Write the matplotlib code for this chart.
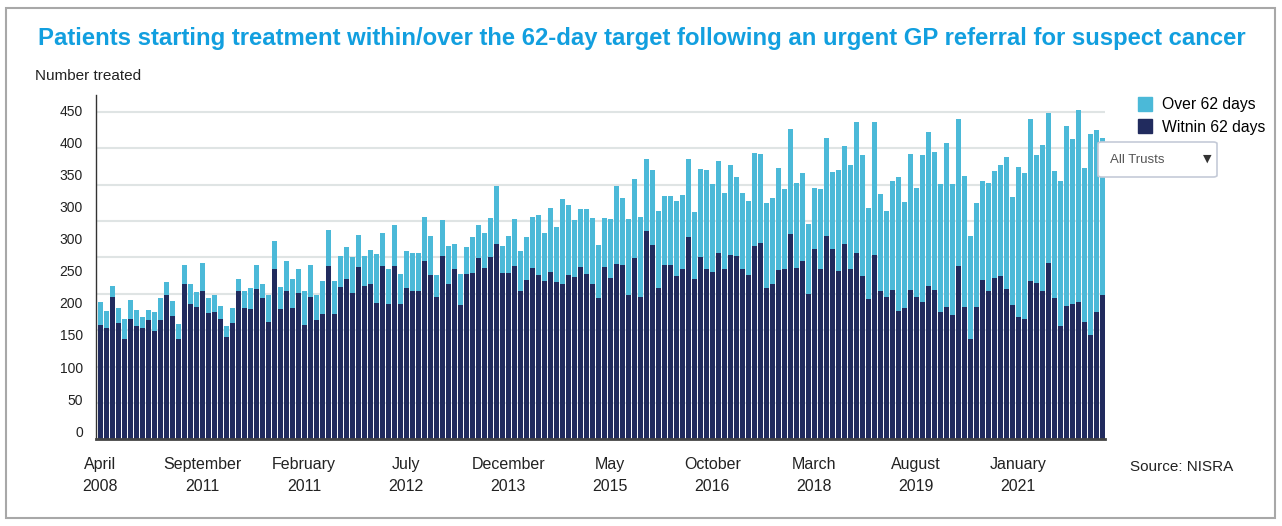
import numpy as np
import matplotlib
matplotlib.use("Agg")
import matplotlib.pyplot as plt
from matplotlib.patches import Rectangle, FancyBboxPatch
from matplotlib.lines import Line2D

plt.rcParams['font.family'] = ['Liberation Sans', 'DejaVu Sans']

# monthly counts, April 2008 onwards
within = [157, 153, 196, 160, 138, 165, 156, 153, 164, 149, 164, 198, 169, 138, 213, 186, 182, 204,
          174, 175, 165, 141, 160, 204, 180, 179, 207, 194, 161, 234, 179, 204, 180, 201, 157, 196,
          164, 172, 238, 172, 209, 220, 201, 237, 211, 213, 187, 238, 186, 238, 186, 208, 204, 204,
          245, 226, 196, 252, 213, 234, 185, 227, 229, 249, 235, 251, 268, 229, 229, 238, 204, 219,
          235, 226, 218, 230, 216, 213, 226, 223, 237, 227, 213, 194, 237, 222, 241, 240, 198, 249,
          196, 286, 267, 208, 240, 240, 224, 234, 278, 220, 251, 234, 230, 256, 234, 253, 252, 234,
          226, 266, 270, 208, 213, 233, 234, 282, 235, 245, 200, 261, 234, 279, 261, 231, 268, 234,
          256, 224, 193, 253, 204, 196, 205, 176, 180, 205, 196, 189, 211, 205, 175, 182, 171, 238,
          182, 138, 182, 219, 204, 222, 224, 207, 185, 168, 165, 218, 215, 204, 242, 194, 156, 183,
          186, 189, 161, 143, 175, 198]
over = [32, 23, 15, 20, 27, 26, 22, 15, 14, 26, 30, 18, 21, 20, 27, 27, 20, 38,
        20, 23, 18, 15, 20, 16, 24, 29, 33, 19, 37, 38, 30, 41, 40, 33, 47, 44,
        34, 46, 50, 46, 43, 44, 50, 44, 41, 47, 68, 45, 48, 56, 41, 51, 52, 52,
        60, 53, 30, 49, 53, 34, 42, 37, 49, 45, 48, 53, 80, 37, 50, 65, 55, 59,
        70, 82, 65, 88, 76, 117, 96, 78, 79, 89, 91, 73, 67, 81, 107, 92, 105, 109,
        109, 99, 103, 106, 94, 94, 103, 102, 107, 92, 120, 136, 121, 126, 104, 124, 108, 104,
        101, 127, 122, 117, 119, 140, 110, 144, 117, 121, 96, 84, 110, 135, 106, 139, 135, 143,
        180, 167, 125, 183, 133, 118, 150, 184, 146, 187, 149, 202, 211, 190, 176, 225, 180, 202,
        180, 141, 143, 136, 148, 147, 153, 181, 148, 206, 201, 222, 176, 200, 206, 175, 199, 247,
        227, 263, 212, 276, 250, 216]

tick_labels = ["April\n2008", "September\n2011", "February\n2011", "July\n2012", "December\n2013",
               "May\n2015", "October\n2016", "March\n2018", "August\n2019", "January\n2021"]
# y labels as printed on the original (not aligned with the grid)
ylabels = ["0", "50", "100", "150", "200", "250", "300", "300", "350", "400", "450"]

dark = '#212b5e'
light = '#4bb9d8'

W, H = 1282, 526
fig = plt.figure(figsize=(W / 100, H / 100), dpi=100)
ax = fig.add_axes([96 / W, 1 - 439.3 / H, 1009 / W, (439.3 - 95) / H])

x = np.arange(len(within))
ax.bar(x, within, width=0.78, color=dark, label="Witnin 62 days")
ax.bar(x, over, width=0.78, bottom=within, color=light, label="Over 62 days")

ax.set_xlim(-0.7, len(within) - 0.55)
ax.set_ylim(0, 473)
ax.set_yticks(np.arange(50, 451, 50))
ax.yaxis.grid(True, color='#dfe4e4', lw=1.5)
ax.set_axisbelow(True)
ax.tick_params(axis='y', length=0, labelleft=False)
for s in ['top', 'right']:
    ax.spines[s].set_visible(False)
ax.spines['left'].set_color('#333333')
ax.spines['left'].set_linewidth(1)
ax.spines['bottom'].set_color('#444444')
ax.spines['bottom'].set_linewidth(2)

ax.set_xticks(np.arange(len(tick_labels)) * 17)
ax.set_xticklabels(tick_labels, fontsize=11.5, color='#222222', linespacing=1.55)
ax.tick_params(axis='x', length=0, pad=13)

for v, lab in zip(np.linspace(9, 450, len(ylabels)), ylabels):
    ax.text(-13 / 1009, v, lab, transform=ax.get_yaxis_transform(), ha='right', va='center',
            fontsize=10, color='#222222')

fig.text(642 / W, 1 - 38 / H,
         "Patients starting treatment within/over the 62-day target following an urgent GP referral for suspect cancer",
         ha='center', va='center', fontsize=17.2, fontweight='bold', color='#129fdf')
fig.text(35 / W, 1 - 76 / H, "Number treated", ha='left', va='center', fontsize=11, color='#222222')
fig.text(1130 / W, 1 - 467 / H, "Source: NISRA", ha='left', va='center', fontsize=11, color='#222222')

handles = [Line2D([], [], ls='none', marker='s', markersize=10, color=light),
           Line2D([], [], ls='none', marker='s', markersize=10, color=dark)]
fig.legend(handles, ["Over 62 days", "Witnin 62 days"], loc='upper left',
           bbox_to_anchor=(1139 / W, 1 - 97 / H), frameon=False, fontsize=11.3,
           handlelength=0.8, handletextpad=0.65, labelspacing=0.5, borderaxespad=0, borderpad=0)

box = FancyBboxPatch((1098 / W, 1 - 177 / H), 119 / W, 35 / H, transform=fig.transFigure,
                     boxstyle="round,pad=0,rounding_size=0.003", fc='white', ec='#c5cbd8', lw=1.2,
                     zorder=10)
fig.add_artist(box)
fig.text(1110 / W, 1 - 160 / H, "All Trusts", ha='left', va='center', fontsize=9.5, color='#555555',
         zorder=11)
fig.text(1207 / W, 1 - 159 / H, "\u25bc", ha='center', va='center', fontsize=8, color='#333333',
         family='DejaVu Sans', zorder=11)

fig.add_artist(Rectangle((6 / W, 8 / H), 1269 / W, 510 / H, transform=fig.transFigure,
                         fill=False, ec='#a8a8a8', lw=1.5))

fig.savefig("out.png", dpi=100)
